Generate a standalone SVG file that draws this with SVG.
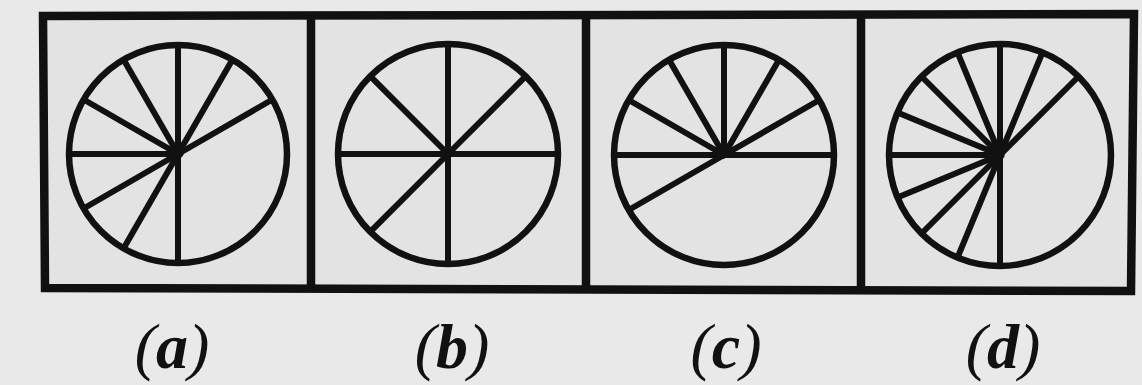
<svg xmlns="http://www.w3.org/2000/svg" width="1142" height="385" viewBox="0 0 1142 385">
  <style>
    .frame { fill: #e3e3e3; stroke: #111; stroke-width: 8.5; stroke-linejoin: miter; }
    .div { stroke: #111; stroke-width: 8.5; }
    .wheel { fill: none; stroke: #111; stroke-width: 6.5; }
    .spoke { stroke: #111; stroke-width: 6; stroke-linecap: butt; }
    .hub { fill: #111; }
    .lbl { font-family: "Liberation Serif", "Times New Roman", serif; font-style: italic; font-size: 64px; fill: #111; text-anchor: middle; }
    .ltr { font-weight: bold; }
  </style>
  <rect width="1142" height="385" fill="#e9e9e9"/>
  <g id="frame">
    <path class="frame" d="M43,16 L1134,14 L1131,291 L45,288 Z"/>
    <line class="div" x1="311" y1="15" x2="311" y2="290"/>
    <line class="div" x1="586" y1="15" x2="586" y2="290"/>
    <line class="div" x1="861" y1="15" x2="861" y2="290"/>
  </g>
  <g id="panel-a">
    <circle class="wheel" cx="178" cy="154" r="109"/>
    <g class="spoke">
      <line x1="178" y1="154" x2="272.4" y2="99.5"/>
      <line x1="178" y1="154" x2="232.5" y2="59.6"/>
      <line x1="178" y1="154" x2="178" y2="45"/>
      <line x1="178" y1="154" x2="123.5" y2="59.6"/>
      <line x1="178" y1="154" x2="83.6" y2="99.5"/>
      <line x1="178" y1="154" x2="69" y2="154"/>
      <line x1="178" y1="154" x2="83.6" y2="208.5"/>
      <line x1="178" y1="154" x2="123.5" y2="248.4"/>
      <line x1="178" y1="154" x2="178" y2="263"/>
    </g>
    <circle class="hub" cx="177" cy="152" r="7"/>
  </g>
  <g id="panel-b">
    <circle class="wheel" cx="448" cy="154" r="110"/>
    <g class="spoke">
      <line x1="448" y1="154" x2="558" y2="154"/>
      <line x1="448" y1="154" x2="525.8" y2="76.2"/>
      <line x1="448" y1="154" x2="448" y2="44"/>
      <line x1="448" y1="154" x2="370.2" y2="76.2"/>
      <line x1="448" y1="154" x2="338" y2="154"/>
      <line x1="448" y1="154" x2="370.2" y2="231.8"/>
      <line x1="448" y1="154" x2="448" y2="264"/>
    </g>
    <circle class="hub" cx="448" cy="154" r="4.5"/>
  </g>
  <g id="panel-c">
    <circle class="wheel" cx="724" cy="155" r="110"/>
    <g class="spoke">
      <line x1="724" y1="155" x2="834" y2="155"/>
      <line x1="724" y1="155" x2="819.3" y2="100"/>
      <line x1="724" y1="155" x2="779" y2="59.7"/>
      <line x1="724" y1="155" x2="724" y2="45"/>
      <line x1="724" y1="155" x2="669" y2="59.7"/>
      <line x1="724" y1="155" x2="628.7" y2="100"/>
      <line x1="724" y1="155" x2="614" y2="155"/>
      <line x1="724" y1="155" x2="628.7" y2="210"/>
    </g>
    <circle class="hub" cx="722" cy="152" r="7"/>
  </g>
  <g id="panel-d">
    <circle class="wheel" cx="1000" cy="155" r="111"/>
    <g class="spoke">
      <line x1="1000" y1="155" x2="1078.5" y2="76.5"/>
      <line x1="1000" y1="155" x2="1042.5" y2="52.4"/>
      <line x1="1000" y1="155" x2="1000" y2="44"/>
      <line x1="1000" y1="155" x2="957.5" y2="52.4"/>
      <line x1="1000" y1="155" x2="921.5" y2="76.5"/>
      <line x1="1000" y1="155" x2="897.4" y2="112.5"/>
      <line x1="1000" y1="155" x2="889" y2="155"/>
      <line x1="1000" y1="155" x2="897.4" y2="197.5"/>
      <line x1="1000" y1="155" x2="921.5" y2="233.5"/>
      <line x1="1000" y1="155" x2="957.5" y2="257.6"/>
      <line x1="1000" y1="155" x2="1000" y2="266"/>
    </g>
    <circle class="hub" cx="995" cy="153" r="10"/>
  </g>
  <g id="labels">
    <text class="lbl" x="172" y="368">(<tspan class="ltr">a</tspan>)</text>
    <text class="lbl" x="452" y="368">(<tspan class="ltr">b</tspan>)</text>
    <text class="lbl" x="726" y="368">(<tspan class="ltr">c</tspan>)</text>
    <text class="lbl" x="1003" y="368">(<tspan class="ltr">d</tspan>)</text>
  </g>
</svg>
